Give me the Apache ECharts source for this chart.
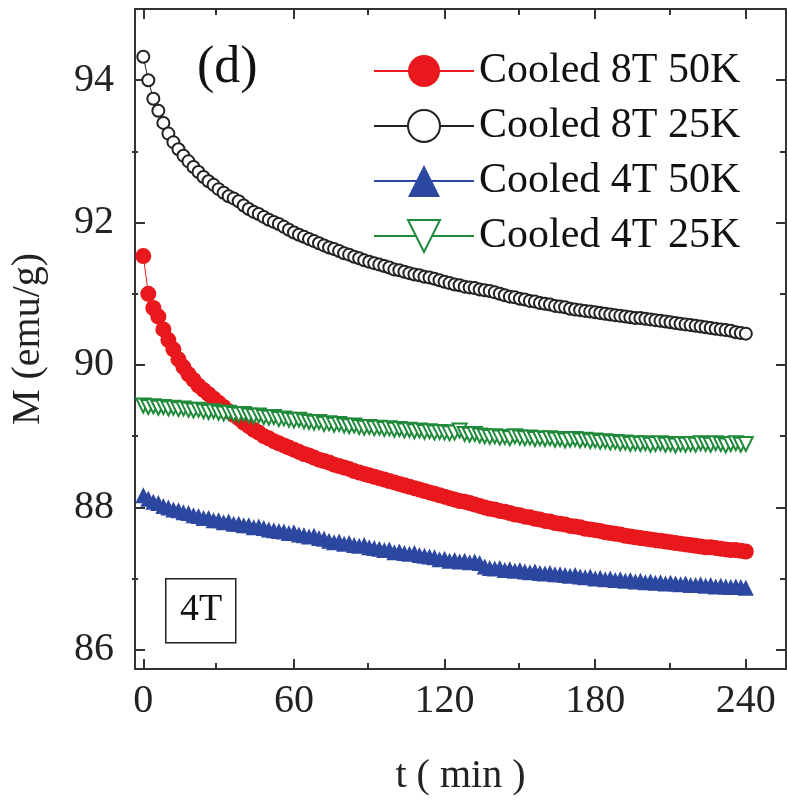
<!DOCTYPE html>
<html>
<head>
<meta charset="utf-8">
<script src="https://cdn.jsdelivr.net/npm/echarts@6/dist/echarts.min.js"></script>
<style>
  html, body { margin: 0; padding: 0; background: #fff; }
  #chart { width: 787px; height: 802px; }
</style>
</head>
<body>
<div id="chart"></div>
<script>
const times = [0, 2, 4, 6, 8, 10, 12, 14, 16, 18, 20, 22, 24, 26, 28, 30, 32, 34, 36, 38,
  40, 42, 44, 46, 48, 50, 52, 54, 56, 58, 60, 62, 64, 66, 68, 70, 72, 74, 76, 78,
  80, 82, 84, 86, 88, 90, 92, 94, 96, 98, 100, 102, 104, 106, 108, 110, 112, 114, 116, 118,
  120, 122, 124, 126, 128, 130, 132, 134, 136, 138, 140, 142, 144, 146, 148, 150, 152, 154, 156, 158,
  160, 162, 164, 166, 168, 170, 172, 174, 176, 178, 180, 182, 184, 186, 188, 190, 192, 194, 196, 198,
  200, 202, 204, 206, 208, 210, 212, 214, 216, 218, 220, 222, 224, 226, 228, 230, 232, 234, 236, 238, 240];

const cooled8T50K = [
  91.53, 91.00, 90.80, 90.68, 90.50, 90.35, 90.22, 90.08, 89.97, 89.87,
  89.79, 89.71, 89.65, 89.59, 89.53, 89.47, 89.41, 89.35, 89.30, 89.25,
  89.19, 89.14, 89.09, 89.05, 89.00, 88.97, 88.93, 88.90, 88.87, 88.84,
  88.81, 88.78, 88.75, 88.73, 88.70, 88.67, 88.65, 88.63, 88.60, 88.58,
  88.56, 88.54, 88.51, 88.49, 88.47, 88.45, 88.43, 88.41, 88.39, 88.37,
  88.35, 88.33, 88.31, 88.29, 88.27, 88.25, 88.23, 88.21, 88.19, 88.17,
  88.15, 88.13, 88.11, 88.09, 88.08, 88.06, 88.04, 88.02, 88.00, 87.98,
  87.97, 87.95, 87.94, 87.92, 87.90, 87.89, 87.87, 87.86, 87.84, 87.83,
  87.81, 87.80, 87.78, 87.77, 87.76, 87.74, 87.73, 87.72, 87.70, 87.69,
  87.68, 87.67, 87.65, 87.64, 87.63, 87.62, 87.60, 87.59, 87.58, 87.57,
  87.56, 87.55, 87.54, 87.53, 87.52, 87.51, 87.50, 87.49, 87.48, 87.47,
  87.46, 87.45, 87.44, 87.44, 87.43, 87.42, 87.41, 87.40, 87.40, 87.39, 87.38];

const cooled8T25K = [
  94.33, 94.00, 93.74, 93.57, 93.40, 93.25, 93.13, 93.03, 92.94, 92.86,
  92.78, 92.71, 92.64, 92.58, 92.53, 92.47, 92.42, 92.37, 92.34, 92.30,
  92.24, 92.19, 92.15, 92.12, 92.08, 92.04, 92.01, 91.98, 91.94, 91.90,
  91.86, 91.83, 91.80, 91.77, 91.74, 91.71, 91.68, 91.65, 91.63, 91.60,
  91.57, 91.55, 91.52, 91.50, 91.47, 91.45, 91.43, 91.41, 91.39, 91.37,
  91.34, 91.33, 91.31, 91.29, 91.27, 91.26, 91.24, 91.23, 91.21, 91.19,
  91.17, 91.15, 91.13, 91.12, 91.10, 91.09, 91.08, 91.06, 91.05, 91.04,
  91.02, 91.00, 90.98, 90.96, 90.95, 90.93, 90.92, 90.90, 90.89, 90.87,
  90.86, 90.85, 90.83, 90.82, 90.81, 90.79, 90.78, 90.77, 90.76, 90.75,
  90.74, 90.73, 90.72, 90.71, 90.70, 90.69, 90.68, 90.67, 90.66, 90.66,
  90.65, 90.64, 90.63, 90.62, 90.61, 90.60, 90.59, 90.58, 90.57, 90.56,
  90.55, 90.54, 90.53, 90.52, 90.51, 90.50, 90.49, 90.48, 90.46, 90.45, 90.44];

const cooled4T50K = [
  88.17, 88.12, 88.08, 88.06, 88.02, 88.00, 87.97, 87.96, 87.93, 87.92,
  87.89, 87.88, 87.85, 87.85, 87.82, 87.82, 87.79, 87.80, 87.77, 87.77,
  87.75, 87.75, 87.72, 87.73, 87.71, 87.69, 87.68, 87.67, 87.66, 87.64,
  87.65, 87.62, 87.61, 87.59, 87.60, 87.57, 87.56, 87.53, 87.51, 87.52,
  87.49, 87.50, 87.47, 87.46, 87.47, 87.44, 87.43, 87.42, 87.40, 87.41,
  87.37, 87.38, 87.36, 87.35, 87.36, 87.33, 87.32, 87.31, 87.30, 87.27,
  87.28, 87.25, 87.26, 87.24, 87.25, 87.23, 87.24, 87.22, 87.17, 87.15,
  87.14, 87.15, 87.12, 87.13, 87.11, 87.12, 87.10, 87.09, 87.10, 87.08,
  87.07, 87.08, 87.06, 87.06, 87.05, 87.04, 87.05, 87.03, 87.02, 87.03,
  87.00, 87.01, 86.99, 87.00, 86.98, 86.99, 86.97, 86.98, 86.96, 86.97,
  86.95, 86.96, 86.94, 86.95, 86.93, 86.94, 86.93, 86.92, 86.93, 86.91,
  86.91, 86.92, 86.90, 86.91, 86.89, 86.90, 86.89, 86.88, 86.89, 86.88, 86.87];

const cooled4T25K = [
  89.43, 89.41, 89.42, 89.40, 89.41, 89.39, 89.40, 89.38, 89.39, 89.37,
  89.36, 89.37, 89.35, 89.34, 89.35, 89.33, 89.32, 89.33, 89.31, 89.30,
  89.31, 89.29, 89.28, 89.29, 89.27, 89.26, 89.27, 89.24, 89.25, 89.23,
  89.22, 89.23, 89.21, 89.20, 89.19, 89.20, 89.17, 89.18, 89.16, 89.17,
  89.15, 89.14, 89.15, 89.13, 89.12, 89.13, 89.11, 89.12, 89.10, 89.11,
  89.09, 89.10, 89.08, 89.09, 89.07, 89.08, 89.06, 89.07, 89.05, 89.06,
  89.05, 89.04, 89.05, 89.08, 89.03, 89.02, 89.03, 89.01, 89.00, 88.99,
  89.00, 88.98, 88.99, 88.97, 89.00, 88.98, 88.97, 88.98, 88.96, 88.97,
  88.96, 88.97, 88.95, 88.96, 88.94, 88.95, 88.96, 88.94, 88.95, 88.93,
  88.94, 88.92, 88.93, 88.91, 88.92, 88.90, 88.91, 88.89, 88.90, 88.89,
  88.90, 88.88, 88.89, 88.90, 88.88, 88.89, 88.87, 88.89, 88.88, 88.89,
  88.88, 88.90, 88.89, 88.88, 88.90, 88.89, 88.87, 88.89, 88.90, 88.88, 88.89];

const seriesNames = ['Cooled 8T 50K', 'Cooled 8T 25K', 'Cooled 4T 50K', 'Cooled 4T 25K'];
const xMajor = [0, 60, 120, 180, 240];
const xMinor = [30, 90, 150, 210];
const yMajor = [86, 88, 90, 92, 94];
const yMinor = [87, 89, 91, 93];

const font = 'Liberation Serif';
const axisColor = '#333';

const pairs = (ys) => times.map((t, i) => [t, ys[i]]);

const chart = echarts.init(document.getElementById('chart'));

// two grids with the same box: one for major ticks/labels, one for minor ticks
const gridBox = { left: 132, right: 1, top: 9, bottom: 133 };
const xRange = { min: -3.3, max: 256 };
const yRange = { min: 85.73, max: 95 };

const xAxisOf = (gridIndex, position, ticks, len, labels, showLine) => ({
  type: 'value', gridIndex, position, ...xRange,
  axisLine: { show: showLine, onZero: false, lineStyle: { color: axisColor, width: 2 } },
  axisTick: { show: true, inside: true, length: len, customValues: ticks, lineStyle: { color: axisColor, width: 2 } },
  axisLabel: labels ? { show: true, customValues: ticks, fontSize: 40, fontFamily: font, color: '#222', margin: 12 } : { show: false },
  splitLine: { show: false }
});
const yAxisOf = (gridIndex, position, ticks, len, labels, showLine) => ({
  type: 'value', gridIndex, position, ...yRange,
  axisLine: { show: showLine, onZero: false, lineStyle: { color: axisColor, width: 2 } },
  axisTick: { show: true, inside: true, length: len, customValues: ticks, lineStyle: { color: axisColor, width: 2 } },
  axisLabel: labels ? { show: true, customValues: ticks, fontSize: 40, fontFamily: font, color: '#222', margin: 21 } : { show: false },
  splitLine: { show: false }
});

const xBottom = xAxisOf(0, 'bottom', xMajor, 10, true, true);
xBottom.name = 't ( min )';
xBottom.nameLocation = 'middle';
xBottom.nameGap = 87;
xBottom.nameTextStyle = { fontSize: 40, fontFamily: font, color: '#222' };

const yLeft = yAxisOf(0, 'left', yMajor, 10, true, true);
yLeft.name = 'M (emu/g)';
yLeft.nameLocation = 'middle';
yLeft.nameGap = 87;
yLeft.nameRotate = 90;
yLeft.nameTextStyle = { fontSize: 40, fontFamily: font, color: '#222' };

const option = {
  backgroundColor: '#fff',
  animation: false,
  grid: [gridBox, gridBox],
  xAxis: [
    xBottom,
    xAxisOf(0, 'top', xMajor, 10, false, true),
    xAxisOf(1, 'bottom', xMinor, 6, false, false),
    xAxisOf(1, 'top', xMinor, 6, false, false)
  ],
  yAxis: [
    yLeft,
    yAxisOf(0, 'right', yMajor, 10, false, true),
    yAxisOf(1, 'left', yMinor, 6, false, false),
    yAxisOf(1, 'right', yMinor, 6, false, false)
  ],
  legend: {
    data: seriesNames,
    orient: 'vertical',
    left: 368,
    top: 45,
    itemWidth: 100,
    itemHeight: 40,
    itemGap: 13,
    lineStyle: { width: 2 },
    textStyle: { fontSize: 42, fontFamily: font, color: '#111' }
  },
  graphic: [
    {
      type: 'text', left: 197, top: 42, z: 10,
      style: { text: '(d)', fontSize: 52, fontFamily: font, fill: '#111' }
    },
    {
      type: 'rect', left: 165, top: 578, z: 10,
      shape: { width: 70, height: 64 },
      style: { fill: '#fff', stroke: '#222', lineWidth: 1.5 }
    },
    {
      type: 'text', left: 180, top: 591, z: 11,
      style: { text: '4T', fontSize: 38, fontFamily: font, fill: '#111' }
    }
  ],
  series: [
    {
      name: seriesNames[0], type: 'line', xAxisIndex: 0, yAxisIndex: 0, z: 2,
      data: pairs(cooled8T50K),
      symbol: 'circle', symbolSize: 16, showAllSymbol: true,
      itemStyle: { color: '#e8181c' },
      lineStyle: { color: '#e8181c', width: 1 }
    },
    {
      name: seriesNames[1], type: 'line', xAxisIndex: 0, yAxisIndex: 0, z: 5,
      data: pairs(cooled8T25K),
      symbol: 'emptyCircle', symbolSize: 12, showAllSymbol: true,
      itemStyle: { color: '#222', borderWidth: 1.5 },
      lineStyle: { color: '#222', width: 1 }
    },
    {
      name: seriesNames[2], type: 'line', xAxisIndex: 0, yAxisIndex: 0, z: 3,
      data: pairs(cooled4T50K),
      symbol: 'triangle', symbolSize: 16, showAllSymbol: true,
      itemStyle: { color: '#2c479f' },
      lineStyle: { color: '#2c479f', width: 1 }
    },
    {
      name: seriesNames[3], type: 'line', xAxisIndex: 0, yAxisIndex: 0, z: 4,
      data: pairs(cooled4T25K),
      symbol: 'emptyTriangle', symbolRotate: 180, symbolSize: 14, showAllSymbol: true,
      itemStyle: { color: '#1f8a3a', borderWidth: 1.3 },
      lineStyle: { color: '#1f8a3a', width: 1 }
    }
  ]
};

chart.setOption(option);
</script>
</body>
</html>
